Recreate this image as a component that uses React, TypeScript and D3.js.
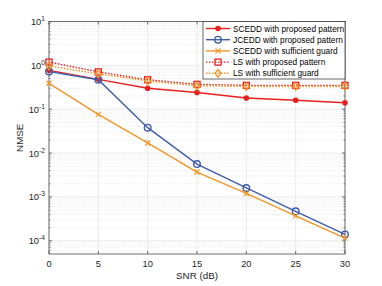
import React from 'react';
import * as d3 from 'd3';

const snr = [0, 5, 10, 15, 20, 25, 30];
const scedProposed = [0.77, 0.48, 0.30, 0.24, 0.18, 0.16, 0.14];
const jcedProposed = [0.72, 0.47, 0.038, 0.0056, 0.0016, 0.00047, 0.00014];
const scedGuard = [0.39, 0.076, 0.017, 0.0037, 0.0012, 0.00037, 0.000115];
const lsProposed = [1.19, 0.71, 0.47, 0.37, 0.35, 0.35, 0.35];
const lsGuard = [0.97, 0.64, 0.44, 0.34, 0.33, 0.33, 0.33];

const xTicks = [0, 5, 10, 15, 20, 25, 30];
const yExps = [-4, -3, -2, -1, 0, 1];

const W = 382, H = 286;
const m = { left: 49, right: 37, top: 21.5, bottom: 32 };

const RED = '#e6201e', BLUE = '#3f5dab', ORANGE = '#f39426';

const series = [
  { name: 'SCEDD with proposed pattern', data: scedProposed, color: RED, dash: '', marker: 'dot' },
  { name: 'JCEDD with proposed pattern', data: jcedProposed, color: BLUE, dash: '', marker: 'circle' },
  { name: 'SCEDD with sufficient guard', data: scedGuard, color: ORANGE, dash: '', marker: 'x' },
  { name: 'LS with proposed pattern', data: lsProposed, color: RED, dash: '1.5,1.5', marker: 'square' },
  { name: 'LS with sufficient guard', data: lsGuard, color: ORANGE, dash: '1.5,1.5', marker: 'diamond' },
];

function Marker({ type, x, y, color }: { type: string; x: number; y: number; color: string }) {
  if (type === 'dot') return <circle cx={x} cy={y} r={2.8} fill={color} />;
  if (type === 'circle') return <circle cx={x} cy={y} r={3.3} fill="none" stroke={color} strokeWidth={1.4} />;
  if (type === 'x')
    return (
      <path d={`M${x - 2.5},${y - 2.5}L${x + 2.5},${y + 2.5}M${x - 2.5},${y + 2.5}L${x + 2.5},${y - 2.5}`} stroke={color} strokeWidth={1.2} />
    );
  if (type === 'square') return <rect x={x - 3} y={y - 3} width={6} height={6} fill="none" stroke={color} strokeWidth={1.3} />;
  return <path d={`M${x},${y - 3.8}L${x + 3},${y}L${x},${y + 3.8}L${x - 3},${y}Z`} fill="none" stroke={color} strokeWidth={1.3} />;
}

export default function App() {
  const x = d3.scaleLinear().domain([0, 30]).range([m.left, W - m.right]);
  const y = d3.scaleLog().domain([5e-5, 10]).range([H - m.bottom, m.top]);
  const [x0, x1] = x.range();
  const [y0, y1] = y.range();

  const minor: number[] = [];
  for (let e = -5; e < 1; e++) for (let k = 2; k <= 9; k++) {
    const v = k * Math.pow(10, e);
    if (v > 5e-5 && v < 10) minor.push(v);
  }

  const line = d3.line<number>().x((_, i) => x(snr[i])).y(d => y(d));
  const font = 'Liberation Sans, Arial, sans-serif';

  const lgX = 203, lgY = 21.5, lgW = 142, lgH = 57.5;

  return (
    <svg width={W} height={H} style={{ position: 'absolute', left: 0, top: 0, background: '#fff' }} fontFamily={font}>
      <rect x={x0} y={y1} width={x1 - x0} height={y0 - y1} fill="#fff" />
      {minor.map((v, i) => (
        <line key={'m' + i} x1={x0} x2={x1} y1={y(v)} y2={y(v)} stroke="#d6d6d6" strokeWidth={0.6} strokeDasharray="1,1.5" />
      ))}
      {yExps.map(e => (
        <line key={'gy' + e} x1={x0} x2={x1} y1={y(Math.pow(10, e))} y2={y(Math.pow(10, e))} stroke="#e4e4e4" strokeWidth={0.8} />
      ))}
      {xTicks.map(t => (
        <line key={'gx' + t} x1={x(t)} x2={x(t)} y1={y0} y2={y1} stroke="#e4e4e4" strokeWidth={0.8} />
      ))}
      {/* box + ticks */}
      <rect x={x0} y={y1} width={x1 - x0} height={y0 - y1} fill="none" stroke="#4d4d4d" strokeWidth={0.8} />
      {xTicks.map(t => (
        <g key={'tx' + t}>
          <line x1={x(t)} x2={x(t)} y1={y0} y2={y0 - 3} stroke="#4d4d4d" strokeWidth={0.8} />
          <line x1={x(t)} x2={x(t)} y1={y1} y2={y1 + 3} stroke="#4d4d4d" strokeWidth={0.8} />
          <text x={x(t)} y={y0 + 13} fontSize={9.3} textAnchor="middle" fill="#262626">{t}</text>
        </g>
      ))}
      {yExps.map(e => (
        <g key={'ty' + e}>
          <line x1={x0} x2={x0 + 3} y1={y(Math.pow(10, e))} y2={y(Math.pow(10, e))} stroke="#4d4d4d" strokeWidth={0.8} />
          <line x1={x1} x2={x1 - 3} y1={y(Math.pow(10, e))} y2={y(Math.pow(10, e))} stroke="#4d4d4d" strokeWidth={0.8} />
          <text x={x0 - 4} y={y(Math.pow(10, e)) + 3.5} fontSize={9.3} textAnchor="end" fill="#262626">
            10<tspan dy={-4} fontSize={6.7}>{e}</tspan>
          </text>
        </g>
      ))}
      {minor.map((v, i) => (
        <g key={'mt' + i}>
          <line x1={x0} x2={x0 + 1.6} y1={y(v)} y2={y(v)} stroke="#4d4d4d" strokeWidth={0.6} />
          <line x1={x1} x2={x1 - 1.6} y1={y(v)} y2={y(v)} stroke="#4d4d4d" strokeWidth={0.6} />
        </g>
      ))}
      <text x={x((0 + 30) / 2)} y={H - 7} fontSize={9.8} textAnchor="middle" fill="#262626">SNR (dB)</text>
      <text transform={`translate(23,${(y0 + y1) / 2}) rotate(-90)`} fontSize={9.8} textAnchor="middle" fill="#262626">NMSE</text>

      {series.map(s => (
        <g key={s.name}>
          <path d={line(s.data) || ''} fill="none" stroke={s.color} strokeWidth={1.4} strokeDasharray={s.dash || undefined} />
          {s.data.map((d, i) => (
            <Marker key={i} type={s.marker} x={x(snr[i])} y={y(d)} color={s.color} />
          ))}
        </g>
      ))}

      <rect x={lgX} y={lgY} width={lgW} height={lgH} fill="#fff" stroke="#262626" strokeWidth={0.7} />
      {series.map((s, i) => {
        const ly = lgY + 7 + i * 11.2;
        return (
          <g key={'lg' + s.name}>
            <line x1={lgX + 3} x2={lgX + 27} y1={ly} y2={ly} stroke={s.color} strokeWidth={1.4} strokeDasharray={s.dash || undefined} />
            <Marker type={s.marker} x={lgX + 15} y={ly} color={s.color} />
            <text x={lgX + 30} y={ly + 3} fontSize={8.3} fill="#000">{s.name}</text>
          </g>
        );
      })}
    </svg>
  );
}
